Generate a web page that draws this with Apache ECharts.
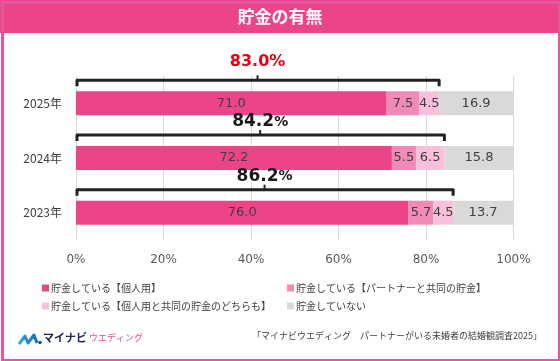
<!DOCTYPE html>
<html>
<head>
<meta charset="utf-8">
<script src="https://cdn.jsdelivr.net/npm/echarts@6/dist/echarts.min.js"></script>
<style>
html,body{margin:0;padding:0;background:#fff;}
#c{width:560px;height:361px;}
</style>
</head>
<body>
<div id="c"></div>
<script>
const categories = ['2025年', '2024年', '2023年'];
const seriesNames = ['貯金している【個人用】', '貯金している【パートナーと共同の貯金】', '貯金している【個人用と共同の貯金のどちらも】', '貯金していない'];
const personal = [71.0, 72.2, 76.0];
const joint = [7.5, 5.5, 5.7];
const both = [4.5, 6.5, 4.5];
const none = [16.9, 15.8, 13.7];
const totals = [83.0, 84.2, 86.2];
const xTicks = ['0%', '20%', '40%', '60%', '80%', '100%'];
const title = '貯金の有無';
const source = '「マイナビウエディング　パートナーがいる未婚者の結婚観調査2025」';

const colors = ['#EC4489', '#F08BB8', '#F8C0DA', '#D9D9D9'];
const JP = '"Noto Sans CJK JP", sans-serif';
const NUM = '"DejaVu Sans", sans-serif';

const chart = echarts.init(document.getElementById('c'), null, {renderer: 'canvas'});

const values = [personal, joint, both, none];
const barSeries = seriesNames.map((n, i) => ({
  name: n,
  type: 'bar',
  stack: 'total',
  barWidth: 24,
  itemStyle: {color: colors[i]},
  label: {
    show: true,
    position: 'inside',
    color: '#404040',
    fontSize: 13,
    fontFamily: NUM,
    formatter: p => p.value.toFixed(1)
  },
  emphasis: {disabled: true},
  data: values[i]
}));

const bracketSeries = {
  name: 'bracket',
  type: 'custom',
  clip: false,
  z: 5,
  encode: {x: 0, y: 1},
  data: totals.map((t, i) => [t, i]),
  renderItem: function (params, api) {
    const total = api.value(0);
    const idx = api.value(1);
    const p0 = api.coord([0, idx]);
    const p1 = api.coord([total, idx]);
    const pm = api.coord([total / 2, idx]);
    const y = p0[1] - 23;
    const first = idx === 0;
    const labelY = y - (first ? 18 : 13);
    const txt = total.toFixed(1);
    return {
      type: 'group',
      children: [
        {type: 'polyline', shape: {points: [[p0[0] + 1, y + 6], [p0[0] + 1, y], [p1[0], y], [p1[0], y + 6]]},
         style: {stroke: '#222', lineWidth: 3, fill: null, lineJoin: 'round'}},
        {type: 'line', shape: {x1: pm[0], y1: y, x2: pm[0], y2: y - 5},
         style: {stroke: '#222', lineWidth: 2}},
        {type: 'text', x: pm[0], y: labelY,
         style: first ? {
           text: txt + '%', fill: '#E60012', font: 'bold 16px ' + NUM, align: 'center', verticalAlign: 'middle'
         } : {
           text: '{a|' + txt + '}{b|%}', align: 'center', verticalAlign: 'middle',
           rich: {
             a: {fill: '#1a1a1a', fontSize: 17, fontWeight: 'bold', fontFamily: NUM},
             b: {fill: '#1a1a1a', fontSize: 14, fontWeight: 'bold', fontFamily: NUM}
           }
         }}
      ]
    };
  }
};

const option = {
  animation: false,
  backgroundColor: '#fff',
  grid: {left: 76, right: 46.5, top: 76, bottom: 121, containLabel: false},
  xAxis: {
    type: 'value', min: 0, max: 100, interval: 20,
    axisLine: {show: false}, axisTick: {show: false},
    splitLine: {lineStyle: {color: '#D9D9D9', width: 1}},
    axisLabel: {color: '#595959', fontSize: 12, fontFamily: NUM, margin: 14,
      formatter: v => xTicks[Math.round(v / 20)]}
  },
  yAxis: {
    type: 'category', inverse: true, data: categories,
    axisLine: {show: false}, axisTick: {show: false},
    axisLabel: {color: '#404040', fontSize: 12, fontFamily: JP, margin: 14}
  },
  legend: [
    {orient: 'vertical', left: 37, top: 278, itemWidth: 7, itemHeight: 7, itemGap: 8,
     icon: 'rect', data: [seriesNames[0], seriesNames[2]],
     textStyle: {fontSize: 10, fontFamily: JP, color: '#404040', padding: [0, 0, 0, -3]}},
    {orient: 'vertical', left: 282, top: 278, itemWidth: 7, itemHeight: 7, itemGap: 8,
     icon: 'rect', data: [seriesNames[1], seriesNames[3]],
     textStyle: {fontSize: 10, fontFamily: JP, color: '#404040', padding: [0, 0, 0, -3]}}
  ],
  series: barSeries.concat([bracketSeries]),
  graphic: [
    {type: 'rect', left: 0, top: 0, shape: {width: 560, height: 33}, style: {fill: '#EC4489'}, z: 0},
    {type: 'rect', left: 0, top: 0, shape: {x: 1.5, y: 1.5, width: 557, height: 358}, style: {fill: null, stroke: '#E4579B', lineWidth: 3}, z: 10},
    {type: 'text', left: 'center', top: 8, style: {text: title, fill: '#fff', font: 'bold 17px ' + JP}},
    {type: 'text', right: 18, top: 331, style: {text: source, fill: '#404040', font: '9px ' + JP}},
    {type: 'polyline', shape: {points: [[19, 344], [25, 336], [28, 343], [34, 335], [37, 343]]},
     style: {stroke: new echarts.graphic.LinearGradient(0, 0, 1, 0, [{offset: 0, color: '#2BB5E8'}, {offset: 1, color: '#1F5FB8'}]), lineWidth: 3, fill: null, lineJoin: 'round'}},
    {type: 'circle', shape: {cx: 40, cy: 342.5, r: 1.8}, style: {fill: '#1F4FA8'}},
    {type: 'text', left: 43, top: 332, style: {text: 'マイナビ', fill: '#1D2553', font: 'bold 11px ' + JP}},
    {type: 'text', left: 89, top: 333.5, style: {text: 'ウエディング', fill: '#E8488F', font: '9px ' + JP}}
  ]
};
chart.setOption(option);
</script>
</body>
</html>
